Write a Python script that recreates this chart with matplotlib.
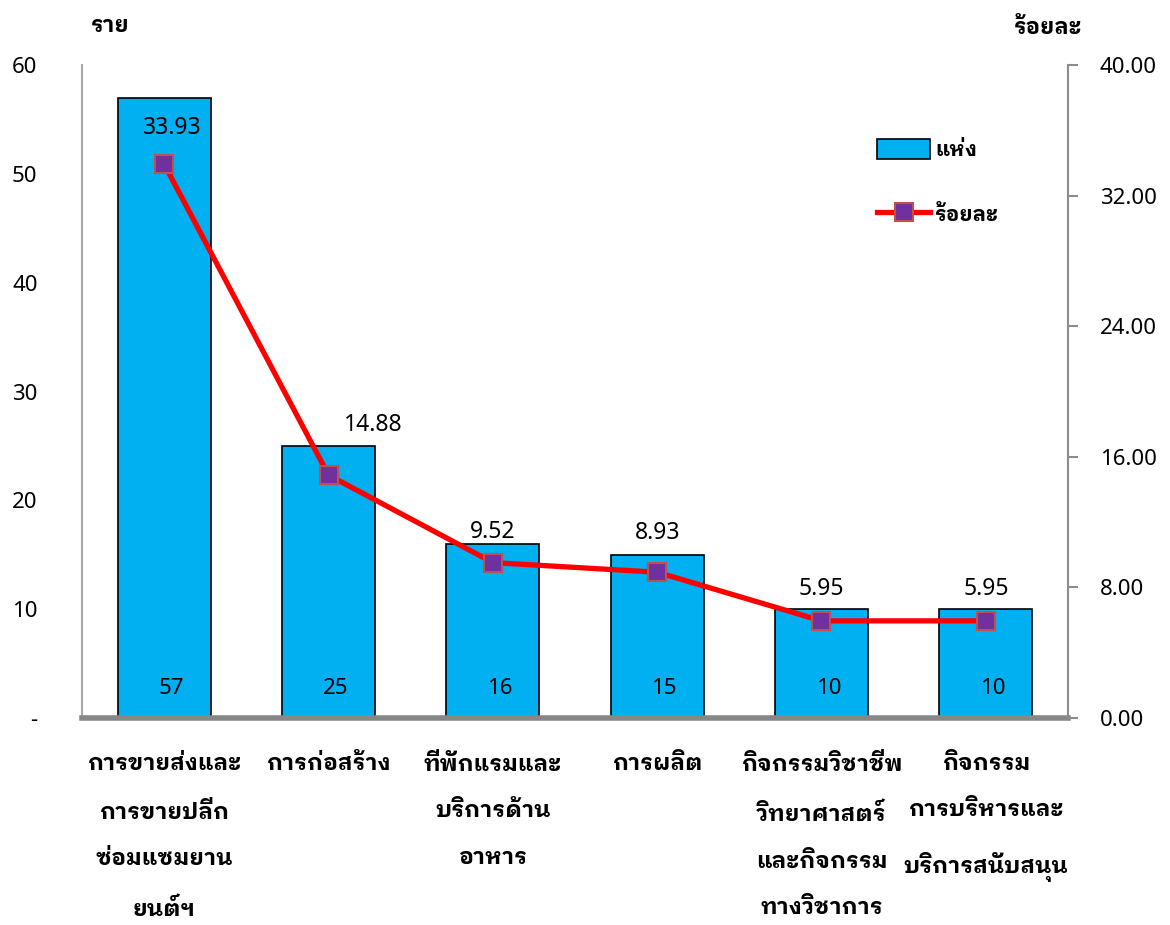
import matplotlib
matplotlib.use("Agg")
import matplotlib.pyplot as plt
from matplotlib.ticker import FuncFormatter, MultipleLocator

THAI = ["IBM Plex Sans Thai Looped", "Noto Sans", "DejaVu Sans"]
NUM = ["Noto Sans", "DejaVu Sans"]
plt.rcParams["font.family"] = NUM

# ข้อมูล
categories = [
    "การขายส่งและ\nการขายปลีก\nซ่อมแซมยาน\nยนต์ฯ",
    "การก่อสร้าง",
    "ที่พักแรมและ\nบริการด้าน\nอาหาร",
    "การผลิต",
    "กิจกรรมวิชาชีพ\nวิทยาศาสตร์\nและกิจกรรม\nทางวิชาการ",
    "กิจกรรม\nการบริหารและ\nบริการสนับสนุน",
]
counts = [57, 25, 16, 15, 10, 10]
percents = [33.93, 14.88, 9.52, 8.93, 5.95, 5.95]
bar_label = "แห่ง"
line_label = "ร้อยละ"

# label offsets (points) for the percent labels
pct_offsets = [(6, 26), (32, 36), (0, 22), (0, 28), (0, 23), (0, 23)]

fig = plt.figure(figsize=(11.7, 9.25), dpi=100)
ax = fig.add_axes([82 / 1170, 207 / 925, 986 / 1170, 653 / 925])
ax2 = ax.twinx()

x = list(range(len(categories)))
bars = ax.bar(x, counts, width=0.567, color="#00B0F0", edgecolor="black",
              linewidth=1.2, label=bar_label, zorder=2)
ln, = ax2.plot(x, percents, color="#FF0000", lw=3.8, marker="s", markersize=13,
               markerfacecolor="#7030A0", markeredgecolor="#C0504D",
               markeredgewidth=1.5, label=line_label, zorder=3)

ax.set_xlim(-0.5, len(categories) - 0.5)
ax.set_ylim(0, 60)
ax2.set_ylim(0, 40)
ax.yaxis.set_major_locator(MultipleLocator(10))
ax2.yaxis.set_major_locator(MultipleLocator(8))
ax.yaxis.set_major_formatter(FuncFormatter(lambda v, p: "-" if v == 0 else f"{v:g}"))
ax2.yaxis.set_major_formatter(FuncFormatter(lambda v, p: f"{v:.2f}"))

ax.set_xticks(x)
ax.set_xticklabels(categories, fontsize=16.5, fontweight="bold", linespacing=2.5,
                   va="top", family=THAI)
ax.tick_params(axis="x", length=0, pad=25)
ax.tick_params(axis="y", length=0, pad=32, labelsize=16)
ax2.tick_params(axis="y", length=7, width=1.5, color="#8C8C8C", pad=16, labelsize=16)

for s in ["top", "right"]:
    ax.spines[s].set_visible(False)
for s in ["top", "left", "bottom"]:
    ax2.spines[s].set_visible(False)
ax.spines["left"].set_color("#A6A6A6")
ax.spines["left"].set_linewidth(1.5)
ax.spines["bottom"].set_color("#878787")
ax.spines["bottom"].set_linewidth(4)
ax2.spines["right"].set_color("#8C8C8C")
ax2.spines["right"].set_linewidth(1.5)

# count labels inside bars
for xi, c in zip(x, counts):
    ax.annotate(str(c), (xi, 0), xytext=(5, 21), textcoords="offset points",
                ha="center", va="center", fontsize=16, zorder=4)

# percent labels
for xi, p, off in zip(x, percents, pct_offsets):
    ax2.annotate(f"{p:.2f}", (xi, p), xytext=off, textcoords="offset points",
                 ha="center", va="center", fontsize=16.5, zorder=4)

fig.text(91 / 1170, 1 - 25 / 925, "ราย", fontsize=16, fontweight="bold",
         va="center", ha="left", family=THAI)
fig.text(1082 / 1170, 1 - 27 / 925, "ร้อยละ", fontsize=16, fontweight="bold",
         va="center", ha="right", family=THAI)

leg = ax.legend([bars, ln], [bar_label, line_label], loc="upper left",
                bbox_to_anchor=(877 / 1170, 1 - 139 / 925), bbox_transform=fig.transFigure,
                frameon=False, borderpad=0, borderaxespad=0, handlelength=2.55,
                handleheight=1.1, handletextpad=0.25, labelspacing=2.1,
                prop={"size": 15, "weight": "bold", "family": THAI})

fig.savefig("out.png")
